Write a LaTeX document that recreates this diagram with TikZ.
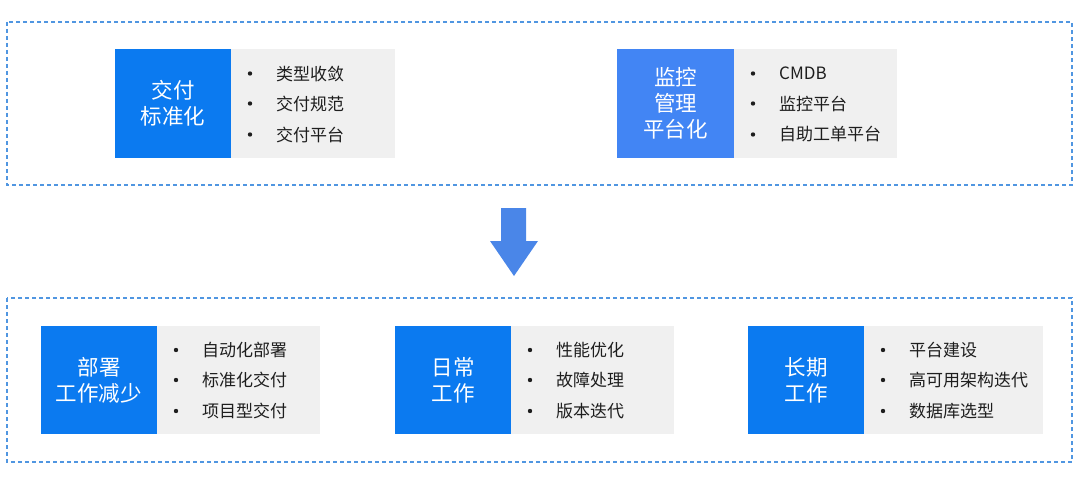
\documentclass[tikz,border=0pt]{standalone}
\usepackage{fontspec}
\setmainfont{Noto Sans CJK SC}
\usetikzlibrary{positioning}
\definecolor{bblue}{RGB}{11,122,240}
\definecolor{lblue}{RGB}{66,133,244}
\definecolor{arrowblue}{RGB}{74,134,232}
\definecolor{lgrey}{RGB}{240,240,240}
\definecolor{dashblue}{RGB}{80,150,225}
\definecolor{txt}{RGB}{30,30,30}
\begin{document}
\begin{tikzpicture}[x=1pt,y=-1pt,
  frame/.style={draw=dashblue,line width=1.1pt,dash pattern=on 4pt off 3pt},
  headbox/.style={text=white,font=\fontsize{21.5}{26}\selectfont,align=center,inner sep=0pt},
  item/.style={anchor=west,text=txt,font=\fontsize{17}{20}\selectfont,inner sep=0pt},
  bul/.style={circle,fill=txt,minimum size=4.4pt,inner sep=0pt}]
\useasboundingbox (0,0) rectangle (1080,487);
% frames
\draw[frame] (7,22) rectangle (1072,185);
\draw[frame] (7,298) rectangle (1072,462);
\newcommand{\grp}[9]{%
  \fill[#7] (#2,#5) rectangle (#3,#6);
  \node[headbox] (#1h) at ({(#2+#3)/2},{(#5+#6)/2}) {#8};
  \fill[lgrey] (#3,#5) rectangle (#4,#6);
  #9}
\newcommand{\items}[6]{%
  \node[bul] (#6b1) at (#1+19,#2-30) {};
  \node[bul] (#6b2) at (#1+19,#2) {};
  \node[bul] (#6b3) at (#1+19,#2+31) {};
  \node[item] (#6i1) at (#1+45,#2-30) {#3};
  \node[item] (#6i2) at (#1+45,#2) {#4};
  \node[item] (#6i3) at (#1+45,#2+31) {#5};}
% top
\grp{a}{115}{231}{395}{49}{158}{bblue}{交付\\标准化}{\items{231}{103.5}{类型收敛}{交付规范}{交付平台}{a}}
\grp{b}{617}{734}{897}{49}{158}{lblue}{监控\\管理\\平台化}{\items{734}{103.5}{CMDB}{监控平台}{自助工单平台}{b}}
% arrow
\fill[arrowblue] (501,208) -- (526,208) -- (526,241) -- (538,241) -- (514,276) -- (490,241) -- (501,241) -- cycle;
% bottom
\grp{c}{41}{157}{320}{326}{434}{bblue}{部署\\工作减少}{\items{157}{380}{自动化部署}{标准化交付}{项目型交付}{c}}
\grp{d}{395}{511}{674}{326}{434}{bblue}{日常\\工作}{\items{511}{380}{性能优化}{故障处理}{版本迭代}{d}}
\grp{e}{748}{864}{1043}{326}{434}{bblue}{长期\\工作}{\items{864}{380}{平台建设}{高可用架构迭代}{数据库选型}{e}}
\end{tikzpicture}
\end{document}
